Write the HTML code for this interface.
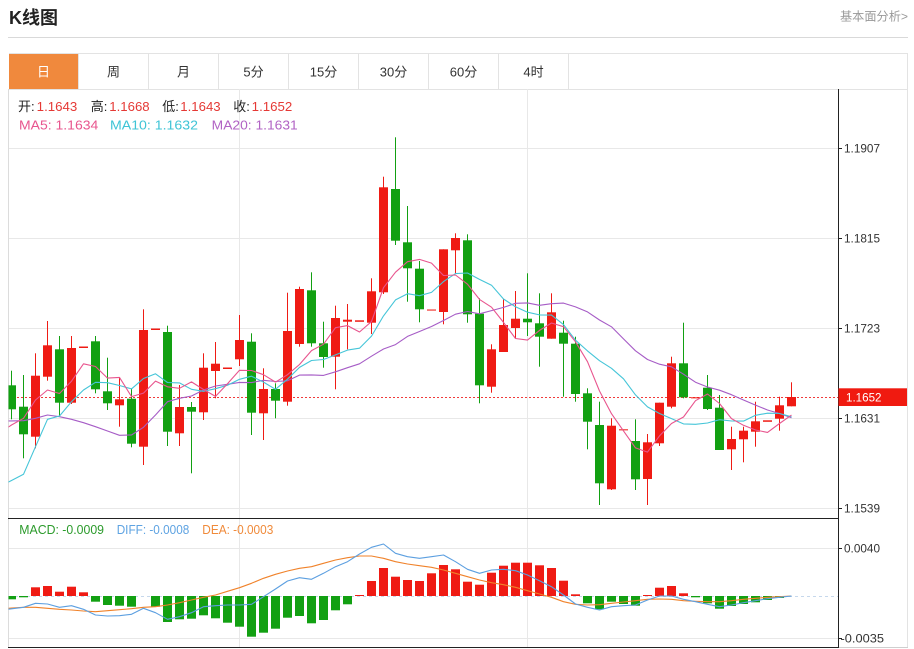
<!DOCTYPE html>
<html><head><meta charset="utf-8"><style>
html,body{margin:0;padding:0;background:#fff;}
body{width:914px;height:649px;overflow:hidden;}
svg{display:block;font-family:"Liberation Sans","Noto Sans CJK SC",sans-serif;}
</style></head><body>
<svg width="914" height="649" viewBox="0 0 914 649" xmlns="http://www.w3.org/2000/svg">
<defs>
<clipPath id="cm"><rect x="8.5" y="89.5" width="829.5" height="428.5"/></clipPath>
<clipPath id="cd"><rect x="8.5" y="519" width="829.5" height="128"/></clipPath>
</defs>
<!-- header -->
<text x="9" y="24" font-size="18" font-weight="bold" fill="#222">K线图</text>
<text x="840" y="20.5" font-size="12" fill="#999" textLength="68" lengthAdjust="spacingAndGlyphs">基本面分析&gt;</text>
<line x1="8" y1="37.5" x2="908" y2="37.5" stroke="#d9d9d9"/>
<!-- tabs -->
<rect x="9.5" y="53.5" width="898" height="36" fill="#fff" stroke="#e3e3e3"/>
<rect x="9" y="54" width="69" height="35" fill="#f0893d"/>
<g stroke="#e3e3e3">
<line x1="78.5" y1="54" x2="78.5" y2="89"/><line x1="148.5" y1="54" x2="148.5" y2="89"/>
<line x1="218.5" y1="54" x2="218.5" y2="89"/><line x1="288.5" y1="54" x2="288.5" y2="89"/>
<line x1="358.5" y1="54" x2="358.5" y2="89"/><line x1="428.5" y1="54" x2="428.5" y2="89"/>
<line x1="498.5" y1="54" x2="498.5" y2="89"/><line x1="568.5" y1="54" x2="568.5" y2="89"/>
</g>
<g font-size="13" text-anchor="middle" fill="#333">
<text x="43.5" y="76.5" fill="#fff">日</text>
<text x="113.5" y="76.5">周</text><text x="183.5" y="76.5">月</text>
<text x="253.5" y="76.5">5分</text><text x="323.5" y="76.5">15分</text>
<text x="393.5" y="76.5">30分</text><text x="463.5" y="76.5">60分</text>
<text x="533.5" y="76.5">4时</text>
</g>
<!-- frame -->
<line x1="8.5" y1="89" x2="8.5" y2="648" stroke="#dcdcdc"/>
<line x1="907.5" y1="89" x2="907.5" y2="648" stroke="#e3e3e3"/>
<line x1="838" y1="647.5" x2="908" y2="647.5" stroke="#cfcfcf"/>
<!-- grid -->
<g stroke="#e8e8e8">
<line x1="9" y1="148.5" x2="838" y2="148.5"/><line x1="9" y1="238.5" x2="838" y2="238.5"/>
<line x1="9" y1="328.5" x2="838" y2="328.5"/><line x1="9" y1="418.5" x2="838" y2="418.5"/>
<line x1="9" y1="508.5" x2="838" y2="508.5"/>
<line x1="9" y1="548.5" x2="838" y2="548.5"/><line x1="9" y1="638.5" x2="838" y2="638.5"/>
<line x1="239.5" y1="89" x2="239.5" y2="647"/><line x1="527.5" y1="89" x2="527.5" y2="647"/>
</g>
<!-- legend -->
<g font-size="13">
<text x="18" y="111" fill="#222">开:</text><text x="36.7" y="111" fill="#e53935" textLength="40.6" lengthAdjust="spacingAndGlyphs">1.1643</text>
<text x="90.7" y="111" fill="#222">高:</text><text x="109.3" y="111" fill="#e53935" textLength="40.3" lengthAdjust="spacingAndGlyphs">1.1668</text>
<text x="162.3" y="111" fill="#222">低:</text><text x="180.3" y="111" fill="#e53935" textLength="40.3" lengthAdjust="spacingAndGlyphs">1.1643</text>
<text x="233.3" y="111" fill="#222">收:</text><text x="251.7" y="111" fill="#e53935" textLength="40.6" lengthAdjust="spacingAndGlyphs">1.1652</text>
<text x="19" y="129.5" fill="#e8558e" textLength="79.3" lengthAdjust="spacingAndGlyphs">MA5: 1.1634</text>
<text x="110" y="129.5" fill="#3fc4d6" textLength="88" lengthAdjust="spacingAndGlyphs">MA10: 1.1632</text>
<text x="211.7" y="129.5" fill="#b163c4" textLength="86" lengthAdjust="spacingAndGlyphs">MA20: 1.1631</text>
</g>
<!-- price dotted line -->
<line x1="9" y1="397.5" x2="838" y2="397.5" stroke="#f03a3a" stroke-dasharray="2,2"/>
<g clip-path="url(#cm)">
<!-- red candles -->
<g fill="#ef1b14">
<rect x="35" y="353.3" width="1" height="95"/><rect x="31" y="375.7" width="9" height="61"/>
<rect x="47" y="321" width="1" height="59.7"/><rect x="43" y="345.3" width="9" height="31.4"/>
<rect x="71" y="336" width="1" height="68"/><rect x="67" y="348" width="9" height="54.7"/>
<rect x="79" y="346.5" width="9" height="1.5"/>
<rect x="119" y="377.3" width="1" height="49.4"/><rect x="115" y="399.3" width="9" height="6"/>
<rect x="143" y="309.3" width="1" height="155.7"/><rect x="139" y="330" width="9" height="116.7"/>
<rect x="151" y="328.5" width="9" height="1.5"/>
<rect x="179" y="385" width="1" height="61"/><rect x="175" y="407" width="9" height="26.3"/>
<rect x="203" y="353.3" width="1" height="66.7"/><rect x="199" y="367.7" width="9" height="44.6"/>
<rect x="215" y="342" width="1" height="56.3"/><rect x="211" y="363.7" width="9" height="7.3"/>
<rect x="223" y="367.5" width="9" height="1.5"/>
<rect x="239" y="315" width="1" height="51"/><rect x="235" y="340" width="9" height="19.3"/>
<rect x="263" y="368.3" width="1" height="71.7"/><rect x="259" y="389" width="9" height="24.3"/>
<rect x="287" y="292.7" width="1" height="113"/><rect x="283" y="331" width="9" height="70.7"/>
<rect x="299" y="286.7" width="1" height="60"/><rect x="295" y="289" width="9" height="55"/>
<rect x="335" y="305.7" width="1" height="83.6"/><rect x="331" y="318" width="9" height="38.7"/>
<rect x="347" y="304" width="1" height="45.3"/><rect x="343" y="319.7" width="9" height="2"/>
<rect x="355" y="320.3" width="9" height="1.5"/>
<rect x="371" y="278.3" width="1" height="55.7"/><rect x="367" y="291.3" width="9" height="31.4"/>
<rect x="383" y="176.7" width="1" height="117.3"/><rect x="379" y="187.3" width="9" height="105"/>
<rect x="427" y="309.3" width="9" height="1.5" opacity="0.7"/>
<rect x="443" y="249.3" width="1" height="75"/><rect x="439" y="249.3" width="9" height="62.7"/>
<rect x="455" y="233.3" width="1" height="40"/><rect x="451" y="238" width="9" height="12.3"/>
<rect x="491" y="344.3" width="1" height="48.4"/><rect x="487" y="349.3" width="9" height="37.4"/>
<rect x="503" y="299.3" width="1" height="52.7"/><rect x="499" y="325" width="9" height="27"/>
<rect x="515" y="291" width="1" height="47.3"/><rect x="511" y="318.7" width="9" height="9.3"/>
<rect x="551" y="293.3" width="1" height="45.4"/><rect x="547" y="312.3" width="9" height="26.4"/>
<rect x="611" y="418.3" width="1" height="71.7"/><rect x="607" y="425.7" width="9" height="63.6"/>
<rect x="619" y="429" width="9" height="1.5" opacity="0.7"/>
<rect x="647" y="434" width="1" height="71"/><rect x="643" y="442.3" width="9" height="36.7"/>
<rect x="659" y="402.7" width="1" height="43.3"/><rect x="655" y="402.7" width="9" height="40.6"/>
<rect x="671" y="356.7" width="1" height="51.6"/><rect x="667" y="363.3" width="9" height="43.4"/>
<rect x="691" y="397" width="9" height="1.5" opacity="0.7"/>
<rect x="731" y="426.7" width="1" height="43.3"/><rect x="727" y="439" width="9" height="10.3"/>
<rect x="743" y="426.7" width="1" height="35.6"/><rect x="739" y="430.7" width="9" height="8.6"/>
<rect x="755" y="401.7" width="1" height="45"/><rect x="751" y="421.3" width="9" height="10.4"/>
<rect x="763" y="420.3" width="9" height="1.5"/>
<rect x="779" y="396.7" width="1" height="34"/><rect x="775" y="405.3" width="9" height="13.4"/>
<rect x="791" y="382.3" width="1" height="24"/><rect x="787" y="397" width="9" height="9.3"/>
</g>
<!-- green candles -->
<g fill="#12a012">
<rect x="11" y="370.7" width="1" height="48.6"/><rect x="7" y="385.3" width="9" height="24"/>
<rect x="23" y="375" width="1" height="83.3"/><rect x="19" y="406.7" width="9" height="27.6"/>
<rect x="59" y="336" width="1" height="80"/><rect x="55" y="349.3" width="9" height="53.4"/>
<rect x="95" y="336" width="1" height="57.3"/><rect x="91" y="341.3" width="9" height="48"/>
<rect x="107" y="357.7" width="1" height="52.3"/><rect x="103" y="391.3" width="9" height="12"/>
<rect x="131" y="388.3" width="1" height="59"/><rect x="127" y="398.7" width="9" height="45"/>
<rect x="167" y="325.7" width="1" height="120.3"/><rect x="163" y="332" width="9" height="99.7"/>
<rect x="191" y="402" width="1" height="71.3"/><rect x="187" y="407" width="9" height="4.7"/>
<rect x="251" y="333.3" width="1" height="101.7"/><rect x="247" y="341.7" width="9" height="71"/>
<rect x="275" y="383.3" width="1" height="35"/><rect x="271" y="389" width="9" height="11.7"/>
<rect x="311" y="272.3" width="1" height="74.4"/><rect x="307" y="290.3" width="9" height="53"/>
<rect x="323" y="321.7" width="1" height="46"/><rect x="319" y="343.3" width="9" height="13.7"/>
<rect x="395" y="137.3" width="1" height="107.7"/><rect x="391" y="189" width="9" height="51.7"/>
<rect x="407" y="206" width="1" height="95.7"/><rect x="403" y="242.3" width="9" height="26"/>
<rect x="419" y="261" width="1" height="61.3"/><rect x="415" y="268.7" width="9" height="40.6"/>
<rect x="467" y="234.3" width="1" height="88.4"/><rect x="463" y="240.3" width="9" height="74"/>
<rect x="479" y="298.3" width="1" height="105"/><rect x="475" y="313.7" width="9" height="71.6"/>
<rect x="527" y="273.3" width="1" height="62.7"/><rect x="523" y="318.7" width="9" height="3.6"/>
<rect x="539" y="293.3" width="1" height="73.4"/><rect x="535" y="323.3" width="9" height="13.4"/>
<rect x="563" y="320.7" width="1" height="76"/><rect x="559" y="332.7" width="9" height="11"/>
<rect x="575" y="336.7" width="1" height="65"/><rect x="571" y="343.7" width="9" height="50.3"/>
<rect x="587" y="388.3" width="1" height="61"/><rect x="583" y="393.3" width="9" height="28.4"/>
<rect x="599" y="401.7" width="1" height="103.3"/><rect x="595" y="425" width="9" height="58.3"/>
<rect x="635" y="419.3" width="1" height="70.7"/><rect x="631" y="441" width="9" height="38.3"/>
<rect x="683" y="322.7" width="1" height="75.6"/><rect x="679" y="363.3" width="9" height="34"/>
<rect x="707" y="375" width="1" height="35"/><rect x="703" y="387.7" width="9" height="21.3"/>
<rect x="719" y="395" width="1" height="55"/><rect x="715" y="407.7" width="9" height="42.3"/>
</g>
<!-- MA lines -->
<g fill="none" stroke-width="1.1" stroke-linejoin="round">
<polyline stroke="#a65cc6" points="8,421 11.5,420.9 23.5,420.7 35.5,418.3 47.5,415 59.5,416.7 71.5,419.3 83.5,422.7 95.5,426.7 107.5,431 119.5,435.3 131.5,435 143.5,427.3 155.5,415 167.5,401.7 179.5,398.3 191.5,396 203.5,390 215.5,386 227.5,384.3 239.5,382.4 251.5,382.6 263.5,380.3 275.5,381.5 287.5,380.8 299.5,375.1 311.5,374.9 323.5,375.4 335.5,371.8 347.5,367.7 359.5,363.8 371.5,356.2 383.5,349 395.5,344.6 407.5,336.4 419.5,331.5 431.5,326.5 443.5,320.5 455.5,314.2 467.5,311.5 479.5,313.8 491.5,310.6 503.5,307.4 515.5,303.3 527.5,302.9 539.5,305.3 551.5,303.7 563.5,303.1 575.5,306.9 587.5,311.9 599.5,320 611.5,326.8 623.5,338.9 635.5,350.8 647.5,359.5 659.5,364.2 671.5,366.8 683.5,374.2 695.5,382.2 707.5,387 719.5,390.2 731.5,394.7 743.5,400 755.5,405.1 767.5,410 779.5,413.5 791.5,417.7"/>
<polyline stroke="#45c5d8" points="8,482.3 11.5,480.5 23.5,474.3 35.5,446.7 47.5,419.3 59.5,416 71.5,401.7 83.5,390 95.5,382.3 107.5,382.7 119.5,385.5 131.5,388.9 143.5,378.5 155.5,373.8 167.5,382.5 179.5,382.9 191.5,389.3 203.5,391.3 215.5,388.7 227.5,385.2 239.5,379.3 251.5,376.2 263.5,382.1 275.5,389.3 287.5,379.2 299.5,367.4 311.5,360.5 323.5,359.5 335.5,354.9 347.5,350.1 359.5,348.2 371.5,336.1 383.5,315.9 395.5,299.9 407.5,293.7 419.5,295.7 431.5,292.4 443.5,281.6 455.5,273.6 467.5,273 479.5,279.4 491.5,285.2 503.5,299 515.5,306.8 527.5,312.2 539.5,314.9 551.5,315.1 563.5,324.6 575.5,340.2 587.5,350.9 599.5,360.7 611.5,368.3 623.5,378.8 635.5,394.9 647.5,406.9 659.5,413.5 671.5,418.6 683.5,423.9 695.5,424.3 707.5,423 719.5,419.7 731.5,421 743.5,421.1 755.5,415.3 767.5,413.2 779.5,413.5 791.5,416.8"/>
<polyline stroke="#e8558e" points="8,427.3 11.5,425 23.5,418.3 35.5,400 47.5,390 59.5,393.5 71.5,381.2 83.5,363.8 95.5,366.5 107.5,378.1 119.5,377.4 131.5,396.6 143.5,393.1 155.5,381.1 167.5,386.8 179.5,388.3 191.5,381.9 203.5,389.5 215.5,396.4 227.5,383.7 239.5,370.3 251.5,370.5 263.5,374.7 275.5,382.1 287.5,374.7 299.5,364.5 311.5,350.6 323.5,344.2 335.5,327.7 347.5,325.6 359.5,332 371.5,321.6 383.5,287.7 395.5,272.2 407.5,261.7 419.5,259.4 431.5,263.1 443.5,275.5 455.5,275 467.5,284.2 479.5,299.4 491.5,307.2 503.5,322.4 515.5,338.5 527.5,340.1 539.5,330.4 551.5,323 563.5,326.7 575.5,341.8 587.5,361.7 599.5,391 611.5,413.7 623.5,430.9 635.5,447.9 647.5,452.1 659.5,435.9 671.5,423.5 683.5,417 695.5,400.7 707.5,394 719.5,403.5 731.5,418.6 743.5,425.3 755.5,430 767.5,432.4 779.5,423.5 791.5,415.1"/>
</g>
</g>
<!-- MACD panel -->
<text x="19.3" y="534" font-size="12.5" fill="#2c9b2c" textLength="84.7" lengthAdjust="spacingAndGlyphs">MACD: -0.0009</text>
<text x="116.7" y="534" font-size="12.5" fill="#5ea3e2" textLength="72.6" lengthAdjust="spacingAndGlyphs">DIFF: -0.0008</text>
<text x="202.3" y="534" font-size="12.5" fill="#f08a3a" textLength="71" lengthAdjust="spacingAndGlyphs">DEA: -0.0003</text>
<line x1="9" y1="596.5" x2="838" y2="596.5" stroke="#c6d8ec" stroke-dasharray="3,3"/>
<g clip-path="url(#cd)">
<g fill="#ef1b14">
<rect x="31" y="587.3" width="9" height="8.7"/><rect x="43" y="586" width="9" height="10"/>
<rect x="55" y="591.7" width="9" height="4.3"/><rect x="67" y="586.7" width="9" height="9.3"/>
<rect x="79" y="592.3" width="9" height="3.7"/><rect x="355" y="595" width="9" height="1"/>
<rect x="367" y="581" width="9" height="15"/><rect x="379" y="568" width="9" height="28"/>
<rect x="391" y="576.7" width="9" height="19.3"/><rect x="403" y="580" width="9" height="16"/>
<rect x="415" y="581" width="9" height="15"/><rect x="427" y="573.3" width="9" height="22.7"/>
<rect x="439" y="565" width="9" height="31"/><rect x="451" y="569.3" width="9" height="26.7"/>
<rect x="463" y="581.7" width="9" height="14.3"/><rect x="475" y="584.7" width="9" height="11.3"/>
<rect x="487" y="572.7" width="9" height="23.3"/><rect x="499" y="565.7" width="9" height="30.3"/>
<rect x="511" y="562.7" width="9" height="33.3"/><rect x="523" y="562.7" width="9" height="33.3"/>
<rect x="535" y="565.3" width="9" height="30.7"/><rect x="547" y="568" width="9" height="28"/>
<rect x="559" y="580.7" width="9" height="15.3"/><rect x="571" y="594.3" width="9" height="1.7"/>
<rect x="643" y="595" width="9" height="1"/><rect x="655" y="587.7" width="9" height="8.3"/>
<rect x="667" y="586" width="9" height="10"/><rect x="679" y="593.3" width="9" height="2.7"/>
</g>
<g fill="#12a012">
<rect x="7" y="596" width="9" height="3.3"/><rect x="19" y="596" width="9" height="1.3"/>
<rect x="91" y="596" width="9" height="5.7"/><rect x="103" y="596" width="9" height="9"/>
<rect x="115" y="596" width="9" height="9.7"/><rect x="127" y="596" width="9" height="10.7"/>
<rect x="151" y="596" width="9" height="10.7"/><rect x="163" y="596" width="9" height="26"/>
<rect x="175" y="596" width="9" height="23.3"/><rect x="187" y="596" width="9" height="22.7"/>
<rect x="199" y="596" width="9" height="19.3"/><rect x="211" y="596" width="9" height="22.3"/>
<rect x="223" y="596" width="9" height="26.7"/><rect x="235" y="596" width="9" height="30.7"/>
<rect x="247" y="596" width="9" height="40.7"/><rect x="259" y="596" width="9" height="36.7"/>
<rect x="271" y="596" width="9" height="32.7"/><rect x="283" y="596" width="9" height="21.7"/>
<rect x="295" y="596" width="9" height="20"/><rect x="307" y="596" width="9" height="27.3"/>
<rect x="319" y="596" width="9" height="24"/><rect x="331" y="596" width="9" height="14.3"/>
<rect x="343" y="596" width="9" height="8.3"/>
<rect x="583" y="596" width="9" height="7.3"/><rect x="595" y="596" width="9" height="13.3"/>
<rect x="607" y="596" width="9" height="5.7"/><rect x="619" y="596" width="9" height="8"/>
<rect x="631" y="596" width="9" height="9.7"/>
<rect x="691" y="596" width="9" height="1.3"/><rect x="703" y="596" width="9" height="7.3"/>
<rect x="715" y="596" width="9" height="12.7"/><rect x="727" y="596" width="9" height="10"/>
<rect x="739" y="596" width="9" height="8"/><rect x="751" y="596" width="9" height="6.3"/>
<rect x="763" y="596" width="9" height="4"/><rect x="775" y="596" width="9" height="2"/>
</g>
<g fill="none" stroke-width="1.1" stroke-linejoin="round">
<polyline stroke="#f0822a" points="8,608.3 11.5,608 23.5,607.3 35.5,607.3 47.5,608.3 59.5,609.3 71.5,610 83.5,611 95.5,611.7 107.5,610.7 119.5,609.7 131.5,608.7 143.5,607.3 155.5,606.7 167.5,605 179.5,602.7 191.5,600 203.5,597.3 215.5,595 227.5,591.3 239.5,587.7 251.5,583.3 263.5,578.3 275.5,574.3 287.5,571 299.5,568.3 311.5,566.7 323.5,563.3 335.5,560 347.5,557.7 359.5,556 371.5,556 383.5,558.3 395.5,561.7 407.5,564 419.5,565.7 431.5,567.3 443.5,570 455.5,573.3 467.5,576.7 479.5,580 491.5,582.7 503.5,584.7 515.5,587.3 527.5,590.7 539.5,594 551.5,597.3 563.5,601.7 575.5,604.3 587.5,605 599.5,604.7 611.5,603.3 623.5,602 635.5,600.7 647.5,599.3 659.5,599 671.5,599.3 683.5,600.7 695.5,601.3 707.5,601.7 719.5,601.7 731.5,600.7 743.5,599.3 755.5,598.3 767.5,597.3 779.5,596.7 791.5,596"/>
<polyline stroke="#5c9fe0" points="8,609.3 11.5,608.8 23.5,607.3 35.5,603.3 47.5,604 59.5,607.3 71.5,605.7 83.5,609.3 95.5,615 107.5,616 119.5,615.7 131.5,614.3 143.5,608.3 155.5,612.7 167.5,619.3 179.5,616.7 191.5,612.7 203.5,606.7 215.5,605.7 227.5,605 239.5,605 251.5,604.3 263.5,596.7 275.5,589 287.5,581 299.5,577.7 311.5,579.3 323.5,573.3 335.5,566.7 347.5,561.7 359.5,554 371.5,547.3 383.5,544 395.5,553.3 407.5,556.7 419.5,558.3 431.5,556.7 443.5,555 455.5,561.7 467.5,569.3 479.5,573.3 491.5,570 503.5,569.3 515.5,570.7 527.5,575 539.5,580.7 551.5,586.7 563.5,595 575.5,604 587.5,607.3 599.5,610 611.5,606.7 623.5,605.7 635.5,605 647.5,600 659.5,596 671.5,596 683.5,599.3 695.5,601.7 707.5,604.3 719.5,606.7 731.5,605 743.5,602.7 755.5,600.7 767.5,598.7 779.5,597.3 791.5,596"/>
</g>
</g>
<!-- separators / axis -->
<line x1="8" y1="518.5" x2="838" y2="518.5" stroke="#222"/>
<line x1="8" y1="647.5" x2="838" y2="647.5" stroke="#222"/>
<line x1="838.5" y1="89" x2="838.5" y2="648" stroke="#222"/>
<g stroke="#222">
<line x1="838" y1="148.5" x2="842" y2="148.5"/><line x1="838" y1="238.5" x2="842" y2="238.5"/>
<line x1="838" y1="328.5" x2="842" y2="328.5"/><line x1="838" y1="418.5" x2="842" y2="418.5"/>
<line x1="838" y1="508.5" x2="842" y2="508.5"/>
<line x1="838" y1="548.5" x2="842" y2="548.5"/><line x1="838" y1="638.5" x2="842" y2="638.5"/>
</g>
<g font-size="12" fill="#333">
<text x="844" y="152.5" textLength="36" lengthAdjust="spacingAndGlyphs">1.1907</text>
<text x="844" y="242.5" textLength="36" lengthAdjust="spacingAndGlyphs">1.1815</text>
<text x="844" y="332.5" textLength="36" lengthAdjust="spacingAndGlyphs">1.1723</text>
<text x="844" y="422.5" textLength="36" lengthAdjust="spacingAndGlyphs">1.1631</text>
<text x="844" y="512.5" textLength="36" lengthAdjust="spacingAndGlyphs">1.1539</text>
<text x="844" y="552.5" textLength="36" lengthAdjust="spacingAndGlyphs">0.0040</text>
<text x="840.5" y="642.5" textLength="43.5" lengthAdjust="spacingAndGlyphs">-0.0035</text>
</g>
<rect x="838.5" y="388.3" width="68.5" height="17.7" fill="#f01a10"/>
<text x="846" y="401.5" font-size="12" fill="#fff" textLength="35.5" lengthAdjust="spacingAndGlyphs">1.1652</text>
</svg>
</body></html>
